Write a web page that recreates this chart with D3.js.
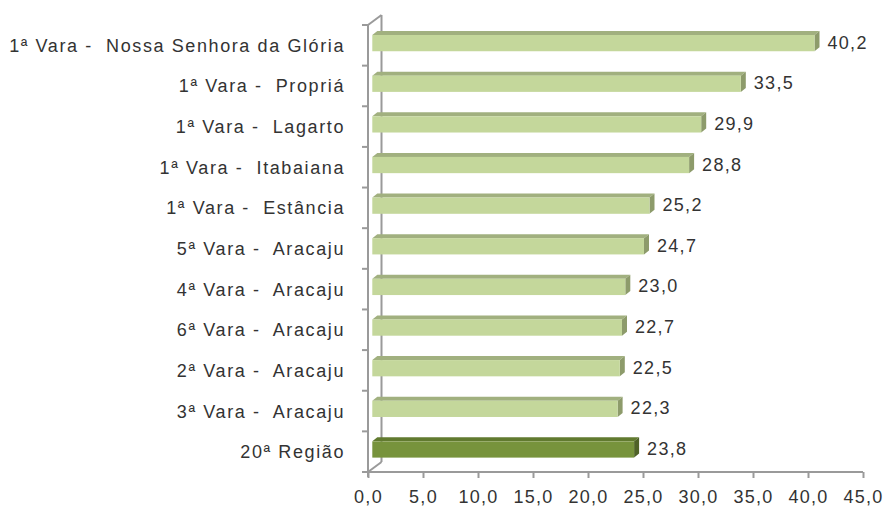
<!DOCTYPE html>
<html>
<head>
<meta charset="utf-8">
<script src="https://cdn.jsdelivr.net/npm/d3@7"></script>
<style>
  html, body { margin: 0; padding: 0; background: #fff; }
  svg { display: block; }
  text { font-family: "Liberation Sans", Arial, sans-serif; fill: #333; white-space: pre; }
</style>
</head>
<body>
<svg id="chart" width="888" height="518"></svg>
<script>
// Categories (top to bottom) and their values
const categories = [
  "1ª Vara -  Nossa Senhora da Glória",
  "1ª Vara -  Propriá",
  "1ª Vara -  Lagarto",
  "1ª Vara -  Itabaiana",
  "1ª Vara -  Estância",
  "5ª Vara -  Aracaju",
  "4ª Vara -  Aracaju",
  "6ª Vara -  Aracaju",
  "2ª Vara -  Aracaju",
  "3ª Vara -  Aracaju",
  "20ª Região"
];
const values = [40.2, 33.5, 29.9, 28.8, 25.2, 24.7, 23.0, 22.7, 22.5, 22.3, 23.8];
const highlighted = ["20ª Região"];
const xTicks = [0, 5, 10, 15, 20, 25, 30, 35, 40, 45];

const fmt = v => v.toFixed(1).replace(".", ",");

const svg = d3.select("#chart");

// Front plane of the 3D plot box
const front = { left: 368, right: 863, top: 25, bottom: 472 };
// Offset of the back wall relative to the front plane
const wall = { dx: 13.5, dy: -10 };
// Offset of the bars' front faces (they sit slightly inside the box)
const barShift = { dx: 4.3, dy: -2.2 };
// Extrusion of each bar (top / side faces)
const depth = { dx: 5, dy: -4 };

const x = d3.scaleLinear().domain([0, 45]).range([front.left, front.right]);
const y = d3.scaleBand().domain(categories)
  .range([front.top, front.bottom])
  .paddingInner(0.6).paddingOuter(0.3);
const yEdges = d3.scaleBand().domain(categories)
  .range([front.top, front.bottom]).padding(0);

const axisColor = "#9a9a9a";
const labelSpacing = 1.6;

// Back-wall edge and connecting diagonals
const g = svg.append("g");
g.append("line")
  .attr("x1", front.left + wall.dx).attr("y1", front.top + wall.dy)
  .attr("x2", front.left + wall.dx).attr("y2", front.bottom + wall.dy)
  .attr("stroke", axisColor).attr("stroke-width", 2);
g.append("line")
  .attr("x1", front.left).attr("y1", front.top)
  .attr("x2", front.left + wall.dx).attr("y2", front.top + wall.dy)
  .attr("stroke", axisColor).attr("stroke-width", 2);
g.append("line")
  .attr("x1", front.left).attr("y1", front.bottom)
  .attr("x2", front.left + wall.dx).attr("y2", front.bottom + wall.dy)
  .attr("stroke", axisColor).attr("stroke-width", 2);

// Category axis with ticks at band edges
const yAxisG = svg.append("g");
yAxisG.append("line")
  .attr("x1", front.left).attr("y1", front.top)
  .attr("x2", front.left).attr("y2", front.bottom + 5)
  .attr("stroke", axisColor).attr("stroke-width", 2);
const edgeYs = categories.map(c => yEdges(c)).concat([front.bottom]);
yAxisG.selectAll("line.tick").data(edgeYs).join("line")
  .attr("class", "tick")
  .attr("x1", front.left - 6).attr("x2", front.left)
  .attr("y1", d => d).attr("y2", d => d)
  .attr("stroke", axisColor).attr("stroke-width", 2);
yAxisG.selectAll("text").data(categories).join("text")
  .attr("x", 345)
  .attr("y", d => yEdges(d) + yEdges.bandwidth() / 2)
  .attr("dy", "0.36em")
  .attr("text-anchor", "end")
  .attr("font-size", 18)
  .attr("letter-spacing", labelSpacing)
  .text(d => d);

// Value axis
const xAxis = d3.axisBottom(x).tickValues(xTicks).tickSize(6).tickPadding(12)
  .tickFormat(fmt);
const xAxisG = svg.append("g")
  .attr("transform", `translate(0,${front.bottom})`)
  .call(xAxis);
xAxisG.select(".domain").attr("stroke", axisColor).attr("stroke-width", 2)
  .attr("d", `M${front.left - 6},0H${front.right}`);
xAxisG.selectAll(".tick line").attr("stroke", axisColor).attr("stroke-width", 2);
xAxisG.selectAll(".tick text")
  .attr("font-size", 18).attr("letter-spacing", 1.3)
  .attr("font-family", "Liberation Sans, Arial, sans-serif")
  .attr("fill", "#333");

// Bars
const palette = {
  normal: { front: "#c4d79b", top: "#a1b07f", side: "#8d9b6b" },
  strong: { front: "#77933c", top: "#617a2f", side: "#4f6228" }
};
const data = categories.map((c, i) => ({ c, v: values[i] }));
const x0 = x(0) + barShift.dx;
const bars = svg.append("g").selectAll("g.bar").data(data).join("g").attr("class", "bar");
bars.each(function(d) {
  const s = highlighted.includes(d.c) ? palette.strong : palette.normal;
  const yt = y(d.c) + barShift.dy;
  const h = y.bandwidth();
  const x1 = x(d.v) + barShift.dx;
  const el = d3.select(this);
  el.append("polygon")
    .attr("points", [[x0, yt], [x0 + depth.dx, yt + depth.dy], [x1 + depth.dx, yt + depth.dy], [x1, yt]].join(" "))
    .attr("fill", s.top);
  el.append("polygon")
    .attr("points", [[x1, yt], [x1 + depth.dx, yt + depth.dy], [x1 + depth.dx, yt + h + depth.dy], [x1, yt + h]].join(" "))
    .attr("fill", s.side);
  el.append("rect")
    .attr("x", x0).attr("y", yt)
    .attr("width", x1 - x0).attr("height", h)
    .attr("fill", s.front);
  el.append("text")
    .attr("x", x1 + 13)
    .attr("y", yt + h / 2 - 1)
    .attr("dy", "0.36em")
    .attr("font-size", 18)
    .attr("letter-spacing", 1.3)
    .text(fmt(d.v));
});
</script>
</body>
</html>
